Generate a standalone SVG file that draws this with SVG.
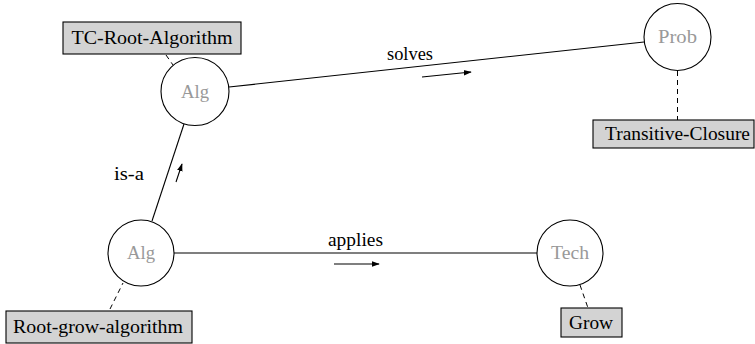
<svg xmlns="http://www.w3.org/2000/svg" width="755" height="344" viewBox="0 0 755 344" font-family="'Liberation Serif', 'DejaVu Serif', serif">
<style>
text{font-family:'Liberation Serif','DejaVu Serif',serif;font-size:18px;text-anchor:middle}
.node{fill:#fff;stroke:#000;stroke-width:1.1}
.nl{fill:#999}
.box{fill:#d3d3d3;stroke:#000;stroke-width:1.1}
.bl{fill:#000}
.edge{stroke:#000;stroke-width:1.1;fill:none}
.dash{stroke:#000;stroke-width:1;fill:none;stroke-dasharray:5,4}
.el{fill:#000}
.arr{stroke:#000;stroke-width:1.1;fill:none;marker-end:url(#ah)}
</style>
<defs>
<marker id="ah" viewBox="0 0 10 10" refX="9" refY="5" markerWidth="8" markerHeight="8" markerUnits="userSpaceOnUse" orient="auto">
<path d="M0,1.5 L10,5 L0,8.5 z" fill="#000"/>
</marker>
</defs>
<g id="connectors">
<line class="edge" x1="229" y1="87" x2="644" y2="42"/>
<line class="arr" x1="422" y1="77" x2="471" y2="72"/>
<text class="el" x="410" y="60" textLength="46" lengthAdjust="spacingAndGlyphs">solves</text>
<line class="edge" x1="152" y1="221" x2="184" y2="124"/>
<line class="arr" x1="176" y1="182" x2="182" y2="164"/>
<text class="el" x="129" y="180" textLength="30" lengthAdjust="spacingAndGlyphs">is-a</text>
<line class="edge" x1="174" y1="253" x2="537" y2="253"/>
<line class="arr" x1="334" y1="264" x2="379" y2="264"/>
<text class="el" x="355.5" y="246" textLength="55" lengthAdjust="spacingAndGlyphs">applies</text>
<line class="dash" x1="166" y1="55" x2="173" y2="65"/>
<line class="dash" x1="677.5" y1="71" x2="677.5" y2="120"/>
<line class="dash" x1="110" y1="309" x2="123" y2="283"/>
<line class="dash" x1="580" y1="285" x2="588" y2="308"/>
</g>
<g id="alg-top">
<circle class="node" cx="195" cy="91.5" r="34"/>
<text class="nl" x="195" y="97.5" textLength="28" lengthAdjust="spacingAndGlyphs">Alg</text>
</g>
<g id="prob">
<circle class="node" cx="677.5" cy="37" r="33.5"/>
<text class="nl" x="677.5" y="43" textLength="39" lengthAdjust="spacingAndGlyphs">Prob</text>
</g>
<g id="alg-bottom">
<circle class="node" cx="141" cy="253" r="33"/>
<text class="nl" x="141" y="259" textLength="28" lengthAdjust="spacingAndGlyphs">Alg</text>
</g>
<g id="tech">
<circle class="node" cx="570" cy="253" r="33"/>
<text class="nl" x="570" y="259" textLength="38" lengthAdjust="spacingAndGlyphs">Tech</text>
</g>
<g id="tc-root-algorithm">
<rect class="box" x="63" y="22" width="178" height="32"/>
<text class="bl" x="152" y="44" textLength="161" lengthAdjust="spacingAndGlyphs">TC-Root-Algorithm</text>
</g>
<g id="transitive-closure">
<rect class="box" x="593" y="120" width="161" height="28"/>
<text class="bl" x="677.5" y="140" textLength="145" lengthAdjust="spacingAndGlyphs">Transitive-Closure</text>
</g>
<g id="root-grow-algorithm">
<rect class="box" x="6" y="311" width="186" height="32"/>
<text class="bl" x="98" y="333" textLength="170" lengthAdjust="spacingAndGlyphs">Root-grow-algorithm</text>
</g>
<g id="grow">
<rect class="box" x="561" y="308" width="61" height="29"/>
<text class="bl" x="591" y="328.5" textLength="44" lengthAdjust="spacingAndGlyphs">Grow</text>
</g>
</svg>
